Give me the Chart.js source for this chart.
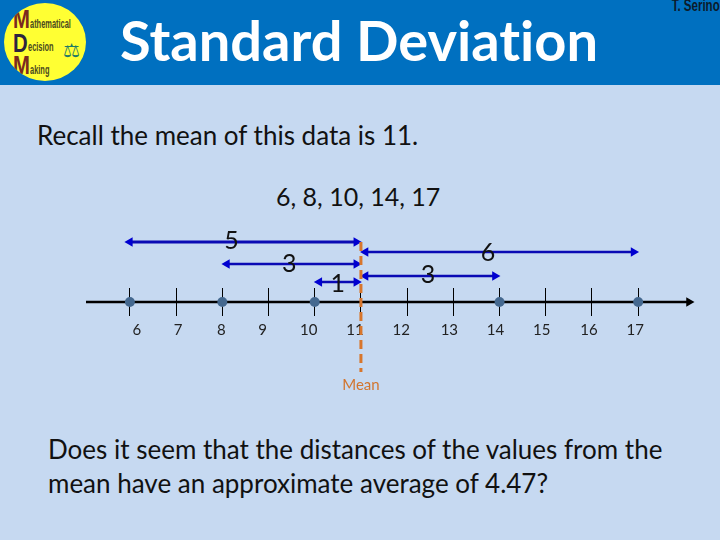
<!DOCTYPE html>
<html>
<head>
<meta charset="utf-8">
<style>
html,body{margin:0;padding:0;width:720px;height:540px;overflow:hidden;background:#c6d9f1;font-family:Lato,sans-serif;font-variant-ligatures:none}
#bar{position:absolute;left:0;top:0;width:720px;height:85px;background:#0070c0}
#title{position:absolute;left:120px;top:6px;font:bold 56px Lato;color:#fff;white-space:nowrap;font-variant-ligatures:none}
#author{position:absolute;right:0;top:-3px;font:bold 16px "Liberation Sans";color:#0c1a2a;white-space:nowrap;transform:scaleX(.72);transform-origin:right top}
#logo{position:absolute;left:4px;top:3px;width:82px;height:78px;border-radius:50%;background:#ffff33;overflow:hidden}
.big{position:absolute;color:#7a2a20;font:bold 26px/26px "Liberation Sans";transform:scaleX(.78);transform-origin:left top}
.sm{position:absolute;color:#4b4a20;font:bold 12px/12px "Liberation Sans";transform:scaleX(.62);transform-origin:left top;white-space:nowrap}
#sc{position:absolute;left:59px;top:37px;font:19px/20px "DejaVu Sans";color:#1f7a66}
.t{position:absolute;color:#111;font:26px/34px Lato;white-space:nowrap;font-variant-ligatures:none}
canvas{position:absolute;left:0;top:0}
</style>
</head>
<body>
<div id="bar"></div>
<div id="logo">
<div class="big" style="left:9px;top:3px">M</div><div class="sm" style="left:26px;top:15px">athematical</div>
<div class="big" style="left:9px;top:27px;color:#2c2440">D</div><div class="sm" style="left:24px;top:38px">ecision</div>
<div class="big" style="left:9px;top:49px">M</div><div class="sm" style="left:26px;top:61px">aking</div>
<div id="sc">⚖</div>
</div>
<div id="title">Standard Deviation</div>
<div id="author">T. Serino</div>
<div class="t" style="left:37px;top:118px">Recall the mean of this data is 11.</div>
<div class="t" style="left:276px;top:179px;font-size:25px">6, 8, 10, 14, 17</div>
<div class="t" style="left:48px;top:432px">Does it seem that the distances of the values from the<br>mean have an approximate average of 4.47?</div>
<div style="width:720px;height:540px;position:absolute;left:0;top:0"><canvas id="c" width="720" height="540"></canvas></div>
<script src="https://cdn.jsdelivr.net/npm/chart.js@4"></script>
<script>
const tickValues=[6,7,8,9,10,11,12,13,14,15,16,17];
const tickLabelShift=[7,2,-1,-6,-6,-6,-6,-4,-4,-4,-3,-3];
const dataValues=[6,8,10,14,17];
const meanValue=11;
const meanLabel="Mean";
const axisStart=5.05, axisEnd=18.1;
const arrowLevels=[60,38,20,50,26];
const arrowFrom=[6,8.1,10.1,11.1,11.1];
const arrowTo=[10.9,10.9,10.9,16.9,13.9];
const distanceLabels=["5","3","1","6","3"];
const distanceLabelX=[8.2,9.45,10.5,13.75,12.45];
const distanceLabelY=[61,38,18,49,27];
const meanExtent=[60,-70];

const arrowSets=arrowLevels.map((lv,i)=>({
  type:'line',
  data:[{x:arrowFrom[i],y:lv},{x:arrowTo[i],y:lv}],
  borderColor:'#0a0ab4',borderWidth:i===0?3:2.5,
  pointStyle:'triangle',pointRadius:5.5,
  pointRotation:[-90,90],
  pointBackgroundColor:'#0000d0',pointBorderColor:'#0000d0',pointBorderWidth:0,
  clip:false,order:3
}));
const shiftLabels={
  id:'shiftLabels',
  beforeDraw(chart){
    const items=chart.scales.x.getLabelItems();
    if(items._done) return;
    items.forEach((it,i)=>{it.options.translation[0]+=tickLabelShift[i];});
    items._done=true;
  }
};
const texts={
  id:'texts',
  afterDatasetsDraw(chart){
    const {ctx,scales:{x,y}}=chart;
    ctx.save();
    ctx.textAlign='center';ctx.textBaseline='middle';
    ctx.fillStyle='#111';ctx.font='25px Lato';
    distanceLabels.forEach((s,i)=>ctx.fillText(s,x.getPixelForValue(distanceLabelX[i]),y.getPixelForValue(distanceLabelY[i])));
    ctx.fillStyle='#d2752e';ctx.font='15px Lato';
    ctx.fillText(meanLabel,x.getPixelForValue(meanValue),y.getPixelForValue(-83));
    ctx.restore();
  }
};
new Chart(document.getElementById('c'),{
  type:'scatter',
  data:{datasets:[
    {type:'line',data:[{x:axisStart,y:0},{x:axisEnd,y:0}],borderColor:'#000',borderWidth:2.5,
     pointRadius:[0,5.5],pointStyle:'triangle',pointRotation:90,pointBackgroundColor:'#000',pointBorderWidth:0,clip:false,order:5},
    {data:dataValues.map(v=>({x:v,y:0})),backgroundColor:'#44688f',borderColor:'#44688f',pointRadius:5,pointBorderWidth:0,clip:false,order:4},
    ...arrowSets,
    {type:'line',data:meanExtent.map(v=>({x:meanValue,y:v})),borderColor:'#d8762c',borderWidth:3,borderDash:[9,5],pointRadius:0,clip:false,order:1}
  ]},
  options:{
    responsive:false,animation:false,
    layout:{padding:{left:86,right:25,top:222,bottom:140}},
    plugins:{legend:{display:false},tooltip:{enabled:false}},
    scales:{
      x:{type:'linear',min:axisStart,max:18.23,position:{y:14},
        afterBuildTicks(s){s.ticks=tickValues.map(v=>({value:v}));},
        border:{display:false},
        grid:{color:'#000',lineWidth:1,drawOnChartArea:false,drawTicks:true,tickLength:28,tickColor:'#000'},
        ticks:{autoSkip:false,maxRotation:0,padding:5,color:'#222',font:{family:'Lato',size:15}}
      },
      y:{display:false,min:-98,max:80}
    }
  },
  plugins:[shiftLabels,texts]
});
</script>
</body>
</html>
